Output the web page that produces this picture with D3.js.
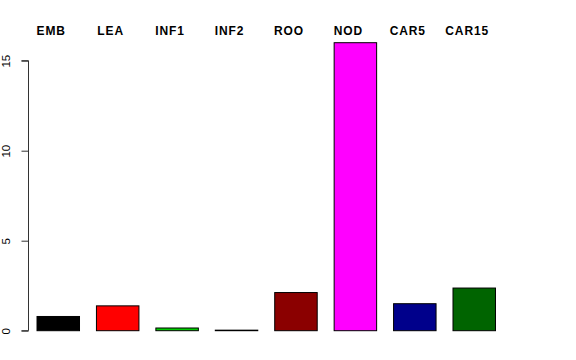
<!DOCTYPE html>
<html><head><meta charset="utf-8">
<script src="https://cdnjs.cloudflare.com/ajax/libs/d3/7.8.5/d3.min.js"></script>
<style>html,body{margin:0;padding:0;background:#fff;}svg{display:block;}</style>
</head><body>
<svg id="chart" width="576" height="360"></svg>
<script>
const categories = ["EMB","LEA","INF1","INF2","ROO","NOD","CAR5","CAR15"];
const values = [0.79, 1.38, 0.15, 0.03, 2.12, 16.0, 1.5, 2.37];
const colors = ["#000000","#FF0000","#00CD00","#0000FF","#8B0000","#FF00FF","#00008B","#006400"];
const yTicks = [0, 5, 10, 15];

const svg = d3.select("#chart");
const x = d3.scaleBand().domain(categories).range([28.55, 503.95]).paddingInner(0.285).paddingOuter(0.1425);
const y = d3.scaleLinear().domain([0, 15]).range([330.7, 60.7]);

svg.selectAll("rect.bar").data(categories).enter().append("rect")
  .attr("class","bar")
  .attr("x", d => x(d))
  .attr("width", x.bandwidth())
  .attr("y", (d,i) => y(values[i]))
  .attr("height", (d,i) => y(0) - y(values[i]))
  .attr("fill", (d,i) => colors[i])
  .attr("stroke", "#000")
  .attr("stroke-width", 1);

const axis = d3.axisLeft(y).tickValues(yTicks).tickSize(7).tickPadding(4);
const g = svg.append("g").attr("transform","translate(28.5,0)").call(axis);
g.selectAll("path, line").attr("stroke","#333");
g.select(".domain").attr("d", `M-7,${y(0)}H0V${y(15)}H-7`);
g.selectAll(".tick text")
  .attr("font-family","Liberation Sans, Arial, sans-serif")
  .attr("font-size", 11.5)
  .attr("fill","#000")
  .attr("text-anchor","middle")
  .attr("transform","rotate(-90)")
  .attr("x",0).attr("y",-18.5).attr("dy","0");

svg.selectAll("text.lab").data(categories).enter().append("text")
  .attr("class","lab")
  .attr("x", d => x(d) + x.bandwidth()/2 - 7)
  .attr("y", 34.5)
  .attr("text-anchor","middle")
  .attr("font-family","Liberation Sans, Arial, sans-serif")
  .attr("font-weight","bold")
  .attr("font-size", 12)
  .attr("letter-spacing", "0.9px")
  .text(d => d);
</script>
</body></html>
